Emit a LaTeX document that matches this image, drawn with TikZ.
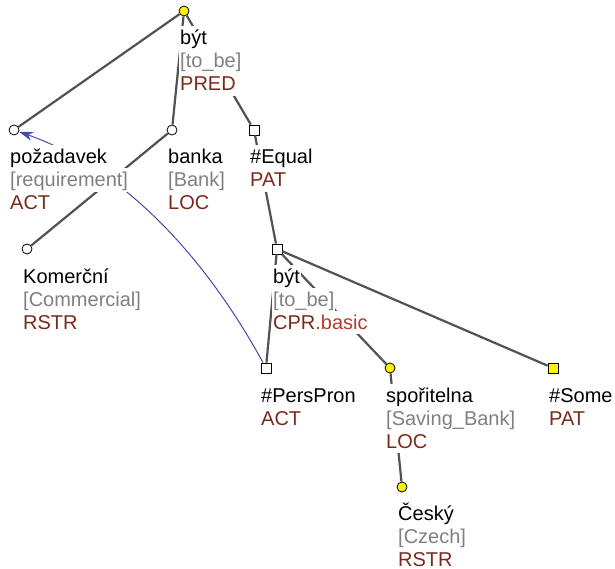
\documentclass[tikz,border=0pt]{standalone}
\usepackage{fontspec}
\setmainfont{Liberation Sans}
\usetikzlibrary{arrows.meta}

\definecolor{glossgray}{RGB}{128,128,128}
\definecolor{funcred}{RGB}{122,42,28}
\definecolor{subred}{RGB}{182,58,42}
\definecolor{edgegray}{RGB}{82,82,82}
\definecolor{corefblue}{RGB}{72,72,172}

\begin{document}
\begin{tikzpicture}[x=1pt,y=-1pt,
    circ/.style={circle,draw=black,line width=0.8pt,fill=white,minimum size=10pt,inner sep=0pt},
    sq/.style={rectangle,draw=black,line width=0.8pt,fill=white,minimum size=10pt,inner sep=0pt},
    yel/.style={fill=yellow},
    lbl/.style={anchor=base west,inner xsep=1pt,inner ysep=0.5pt,text height=18pt,text depth=4.5pt,
      fill=white,font=\fontsize{20}{23}\selectfont},
    gloss/.style={lbl,text=glossgray},
    func/.style={lbl,text=funcred},
    dep/.style={draw=edgegray,line width=2.2pt},
    coref/.style={draw=corefblue,line width=1pt,-{Stealth[length=14pt,width=9pt]}}]
    \useasboundingbox (0,0) rectangle (615,569);
    % tree nodes
    \node[circ,yel] (byt) at (184,11) {};
    \node[circ] (poz) at (14,130) {};
    \node[circ] (banka) at (172,130) {};
    \node[sq] (equal) at (254,130) {};
    \node[circ] (komer) at (27,249) {};
    \node[sq] (byttwo) at (277,249) {};
    \node[sq] (pers) at (266,368) {};
    \node[circ,yel] (spor) at (390,368) {};
    \node[sq,yel] (some) at (553,368) {};
    \node[circ,yel] (cesky) at (402,487) {};
    % dependencies
    \draw[dep] (byt) -- (poz);
    \draw[dep] (byt) -- (banka);
    \draw[dep] (byt) -- (equal);
    \draw[dep] (banka) -- (komer);
    \draw[dep] (equal) -- (byttwo);
    \draw[dep] (byttwo) -- (pers);
    \draw[dep] (byttwo) -- (spor);
    \draw[dep] (byttwo) -- (some);
    \draw[dep] (spor) -- (cesky);
    % coreference
    \draw[coref] (pers) .. controls (198,244) and (114,165) .. (poz);
    % labels, one line each
    \node[lbl] (byt-w) at (179,45) {být};
    \node[gloss] (byt-g) at (179,68) {[to\_be]};
    \node[func] (byt-f) at (179,91) {PRED};
    \node[lbl] (poz-w) at (9,164) {požadavek};
    \node[gloss] (poz-g) at (9,187) {[requirement]};
    \node[func] (poz-f) at (9,210) {ACT};
    \node[lbl] (banka-w) at (167,164) {banka};
    \node[gloss] (banka-g) at (167,187) {[Bank]};
    \node[func] (banka-f) at (167,210) {LOC};
    \node[lbl] (equal-w) at (249,164) {\#Equal};
    \node[func] (equal-f) at (249,187) {PAT};
    \node[lbl] (komer-w) at (22,283) {Komerční};
    \node[gloss] (komer-g) at (22,306) {[Commercial]};
    \node[func] (komer-f) at (22,329) {RSTR};
    \node[lbl] (byttwo-w) at (272,283) {být};
    \node[gloss] (byttwo-g) at (272,306) {[to\_be]};
    \node[func] (byttwo-f) at (272,329) {CPR\textcolor{subred}{.basic}};
    \node[lbl] (pers-w) at (260,402) {\#PersPron};
    \node[func] (pers-f) at (260,425) {ACT};
    \node[lbl] (spor-w) at (385,402) {spořitelna};
    \node[gloss] (spor-g) at (385,425) {[Saving\_Bank]};
    \node[func] (spor-f) at (385,448) {LOC};
    \node[lbl] (some-w) at (548,402) {\#Some};
    \node[func] (some-f) at (548,425) {PAT};
    \node[lbl] (cesky-w) at (397,520) {Český};
    \node[gloss] (cesky-g) at (397,543) {[Czech]};
    \node[func] (cesky-f) at (397,566) {RSTR};
\end{tikzpicture}
\end{document}
